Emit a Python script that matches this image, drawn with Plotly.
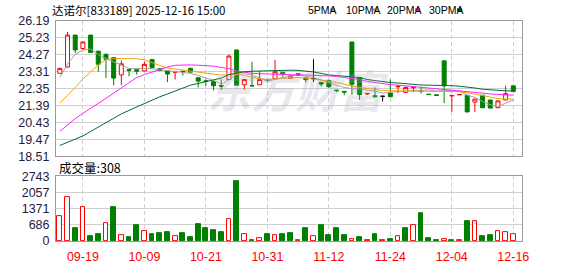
import plotly.graph_objects as go

# ---------------- data ----------------
dates = ["09-16","09-17","09-18","09-19","09-22","09-23","09-24","09-25","09-26","09-29",
         "09-30","10-09","10-10","10-13","10-14","10-15","10-16","10-17","10-20","10-21",
         "10-22","10-23","10-24","10-27","10-28","10-29","10-30","10-31","11-03","11-04",
         "11-05","11-06","11-07","11-10","11-11","11-12","11-13","11-14","11-17","11-18",
         "11-19","11-20","11-21","11-24","11-25","11-26","11-27","11-28","12-01","12-02",
         "12-03","12-04","12-05","12-08","12-09","12-10","12-11","12-12","12-15","12-16"]

opens = [23.22,23.58,25.39,24.63,25.39,24.48,24.30,24.11,23.13,23.43,
         23.43,23.36,24.00,23.48,23.35,23.28,23.34,23.50,22.97,22.80,
         22.75,22.53,22.87,24.55,22.57,22.53,22.57,22.87,22.92,23.28,
         22.94,23.10,22.96,22.92,22.71,22.82,22.27,22.20,25.00,22.99,
         22.05,21.95,21.92,22.12,22.46,22.14,22.40,22.22,22.04,22.00,
         23.93,21.94,22.00,21.98,21.59,21.98,21.71,21.27,21.71,22.51]
highs = [23.53,25.57,25.39,25.02,25.39,24.50,24.34,24.11,23.95,23.45,
         23.45,23.90,24.02,23.50,23.37,23.33,23.36,23.54,22.99,22.87,
         22.77,22.88,24.29,24.55,22.88,23.88,23.35,22.90,23.99,23.29,
         23.10,23.22,22.97,24.02,22.72,22.84,22.28,22.20,25.00,23.00,
         22.10,22.42,21.93,22.87,22.50,22.47,22.46,22.46,22.05,22.01,
         23.93,21.97,22.03,21.98,21.76,21.98,21.71,21.66,22.51,22.51]
lows = [23.20,23.55,24.38,24.56,24.41,23.31,22.95,22.55,22.55,23.05,
        23.15,23.34,23.50,23.35,22.72,22.87,23.10,23.25,22.42,22.51,
        22.25,22.28,22.85,22.55,22.30,22.50,22.55,22.70,22.90,23.03,
        22.90,23.08,22.69,22.74,22.46,22.40,22.15,21.98,22.00,21.71,
        22.00,21.85,21.62,21.88,22.10,22.13,22.15,22.07,22.00,21.96,
        21.53,21.03,21.98,21.03,21.03,21.27,21.25,21.25,21.70,22.19]
closes = [23.50,25.39,24.55,25.00,24.41,23.74,24.02,22.95,23.76,23.40,
          23.34,23.73,23.55,23.40,23.18,23.32,23.31,23.29,22.78,22.76,
          22.52,22.50,24.20,22.55,22.87,22.51,22.87,22.84,23.31,23.17,
          23.08,23.20,22.86,22.92,22.61,22.46,22.24,22.16,22.60,22.02,
          22.08,21.90,21.92,21.89,22.49,22.42,22.45,22.19,22.02,21.97,
          22.51,21.96,22.02,21.03,21.76,21.27,21.25,21.66,22.07,22.20]

volumes = [1060,1855,530,1418,199,278,742,1431,265,172,
           676,424,278,318,358,225,318,172,716,557,
           477,358,940,2544,305,40,106,278,265,278,
           331,40,530,199,676,238,530,238,66,159,
           40,278,40,80,186,557,663,1193,119,40,
           93,40,40,835,835,199,238,437,358,308]

ma5 = [22.99,23.75,24.29,24.55,24.60,24.29,24.06,23.88,23.67,23.50,
       23.49,23.49,23.49,23.43,23.38,23.33,23.28,23.22,23.10,22.95,
       22.82,22.62,22.85,23.15,23.20,23.13,22.95,22.78,22.88,22.98,
       23.06,23.13,23.06,22.98,22.85,22.69,22.55,22.42,22.35,22.33,
       22.28,22.21,22.10,22.15,22.21,22.23,22.24,22.26,22.28,22.22,
       22.26,22.26,22.21,21.98,21.86,21.62,21.44,21.32,21.53,21.71]
ma10 = [21.53,21.95,22.42,22.90,23.31,23.70,24.00,24.06,24.06,24.06,
        24.05,23.99,23.85,23.67,23.52,23.46,23.42,23.35,23.30,23.22,
        23.19,23.12,23.14,23.17,23.10,22.99,22.90,22.87,22.90,22.95,
        23.00,22.99,22.95,22.90,22.85,22.78,22.70,22.58,22.50,22.42,
        22.36,22.30,22.25,22.24,22.22,22.21,22.21,22.21,22.21,22.22,
        22.22,22.22,22.18,22.12,22.05,21.98,21.88,21.78,21.76,21.76]
ma20 = [19.93,20.30,20.65,20.95,21.22,21.50,21.80,22.10,22.40,22.70,
        22.98,23.15,23.30,23.45,23.58,23.68,23.70,23.70,23.68,23.67,
        23.63,23.55,23.49,23.36,23.28,23.22,23.20,23.18,23.17,23.15,
        23.13,23.13,23.13,23.12,23.11,23.10,23.05,22.98,22.93,22.87,
        22.76,22.69,22.62,22.58,22.55,22.51,22.48,22.44,22.40,22.36,
        22.32,22.30,22.25,22.21,22.16,22.10,22.05,22.02,22.00,21.98]
ma30 = [19.13,19.31,19.49,19.67,19.92,20.18,20.44,20.70,20.92,21.12,
        21.32,21.52,21.72,21.89,22.05,22.22,22.38,22.55,22.65,22.74,
        22.82,22.95,23.15,23.25,23.31,23.34,23.36,23.38,23.39,23.40,
        23.40,23.39,23.36,23.30,23.22,23.13,23.10,23.05,23.02,22.98,
        22.87,22.80,22.74,22.70,22.67,22.62,22.57,22.56,22.55,22.55,
        22.55,22.52,22.49,22.46,22.39,22.32,22.28,22.24,22.23,22.22]

price_ticks = [26.19, 25.23, 24.27, 23.31, 22.35, 21.39, 20.43, 19.47, 18.51]
volume_ticks = [2743, 2057, 1371, 686, 0]
date_ticks = ["09-19", "10-09", "10-21", "10-31", "11-12", "11-24", "12-04", "12-16"]

title_text = "达诺尔[833189] 2025-12-16 15:00"
volume_title = "成交量:308"
ma_names = ["5PMA", "10PMA", "20PMA", "30PMA"]
watermark = "东方财富"

# ---------------- styling ----------------
W, H = 578, 276
ML, MR, MT, MB = 56, 56, 21, 21
PW, PH = W - ML - MR, H - MT - MB
RED = "#ff0000"
GREEN = "#008000"
MA_COLORS = ["#a0a0a0", "#f0a30a", "#ff22ff", "#006b30"]
GRID = "#cfcfcf"
BORDER = "#9a9a9a"
LABEL = "#1f2040"

def px_x(p):
    return (p - ML) / PW

def px_y(p):
    return (H - MB - p) / PH

main_dom = [px_y(165), 1.0]
vol_dom = [0.0, px_y(186)]

idx = list(range(len(dates)))
flat = [o == c for o, c in zip(opens, closes)]

def pick(arr, cond):
    return [a if f == cond else None for a, f in zip(arr, flat)]

fig = go.Figure()

candle_common = dict(xaxis="x", yaxis="y", whiskerwidth=0, hoverinfo="skip", showlegend=False)
fig.add_trace(go.Candlestick(
    x=idx, open=pick(opens, False), high=pick(highs, False),
    low=pick(lows, False), close=pick(closes, False),
    increasing=dict(line=dict(color=RED, width=1), fillcolor="#ffffff"),
    decreasing=dict(line=dict(color=GREEN, width=1), fillcolor=GREEN),
    **candle_common))
fig.add_trace(go.Candlestick(
    x=idx, open=pick(opens, True), high=pick(highs, True),
    low=pick(lows, True), close=pick(closes, True),
    increasing=dict(line=dict(color="#000000", width=1), fillcolor="#000000"),
    decreasing=dict(line=dict(color="#000000", width=1), fillcolor="#000000"),
    **candle_common))

for name, vals, col in zip(ma_names, [ma5, ma10, ma20, ma30], MA_COLORS):
    fig.add_trace(go.Scatter(x=idx, y=vals, mode="lines", name=name,
                             line=dict(color=col, width=1), xaxis="x", yaxis="y",
                             hoverinfo="skip", showlegend=False))

# volume colours: close vs previous close (first bar follows its candle)
vol_up = [closes[0] >= opens[0]] + [closes[i] >= closes[i - 1] for i in range(1, len(closes))]
fig.add_trace(go.Bar(
    x=idx, y=volumes, width=0.62, xaxis="x2", yaxis="y2",
    marker=dict(color=["#ffffff" if u else GREEN for u in vol_up],
                line=dict(color=[RED if u else GREEN for u in vol_up], width=1)),
    hoverinfo="skip", showlegend=False))

tick_pos = [dates.index(d) for d in date_ticks]
xr = [-0.5, 60.13]
tick_font = dict(family="Liberation Sans, Arial, sans-serif", size=12.5, color=LABEL)

axis_common = dict(showline=True, mirror=True, linecolor=BORDER, linewidth=1, zeroline=False, ticks="")

fig.update_layout(
    width=W, height=H, margin=dict(l=ML, r=MR, t=MT, b=MB, pad=0),
    paper_bgcolor="#ffffff", plot_bgcolor="#ffffff",
    showlegend=False, bargap=0, boxgap=0.26,
    xaxis=dict(domain=[0, 1], range=xr, anchor="y", tickvals=tick_pos, showticklabels=False,
               showgrid=True, gridcolor=GRID, griddash="4px,3px", gridwidth=1,
               rangeslider=dict(visible=False), **axis_common),
    yaxis=dict(domain=main_dom, range=[price_ticks[-1], price_ticks[0]], anchor="x",
               tickvals=price_ticks, ticktext=[f"{v:.2f}" for v in price_ticks],
               showgrid=True, gridcolor=GRID, gridwidth=1, tickfont=tick_font,
               ticklabelstandoff=3, **axis_common),
    xaxis2=dict(domain=[0, 1], range=xr, anchor="y2", matches="x", tickvals=tick_pos,
                ticktext=date_ticks, showgrid=True, gridcolor=GRID, griddash="4px,3px",
                gridwidth=1, tickfont=dict(family="Liberation Sans, Arial, sans-serif", size=12.5, color=RED),
                ticklabelstandoff=4, **axis_common),
    yaxis2=dict(domain=vol_dom, range=[0, volume_ticks[0]], anchor="x2",
                tickvals=volume_ticks, ticktext=[str(v) for v in volume_ticks],
                showgrid=True, gridcolor=GRID, gridwidth=1, tickfont=tick_font,
                ticklabelstandoff=3, **axis_common),
)

cjk = "Noto Sans CJK SC, sans-serif"
ann = [
    dict(text=title_text, x=px_x(50), y=px_y(9), xanchor="left", yanchor="middle",
         font=dict(family=cjk, size=11.5, color="#000000")),
    dict(text=volume_title, x=px_x(57), y=px_y(177), xanchor="left", yanchor="middle",
         font=dict(family=cjk, size=12.5, color="#000000")),
    dict(text=watermark, x=px_x(298), y=px_y(93), xanchor="center", yanchor="middle",
         font=dict(family=cjk, size=44, weight="bold", style="italic",
                   color="rgba(160,160,185,0.25)")),
]
legend_x = [306, 344, 385, 427]
square_x = [330, 373, 415, 457]
for name, lx, sx, col in zip(ma_names, legend_x, square_x, MA_COLORS):
    ann.append(dict(text=name, x=px_x(lx), y=px_y(9), xanchor="left", yanchor="middle",
                    font=dict(family="Liberation Sans, Arial, sans-serif", size=10.5, color="#000000")))
    fig.add_shape(type="rect", xref="paper", yref="paper",
                  x0=px_x(sx), x1=px_x(sx + 5), y0=px_y(10.5), y1=px_y(7.5),
                  fillcolor=col, line=dict(width=0))
for a in ann:
    a.update(xref="paper", yref="paper", showarrow=False)
fig.update_layout(annotations=ann)

fig.write_html("out.html")
